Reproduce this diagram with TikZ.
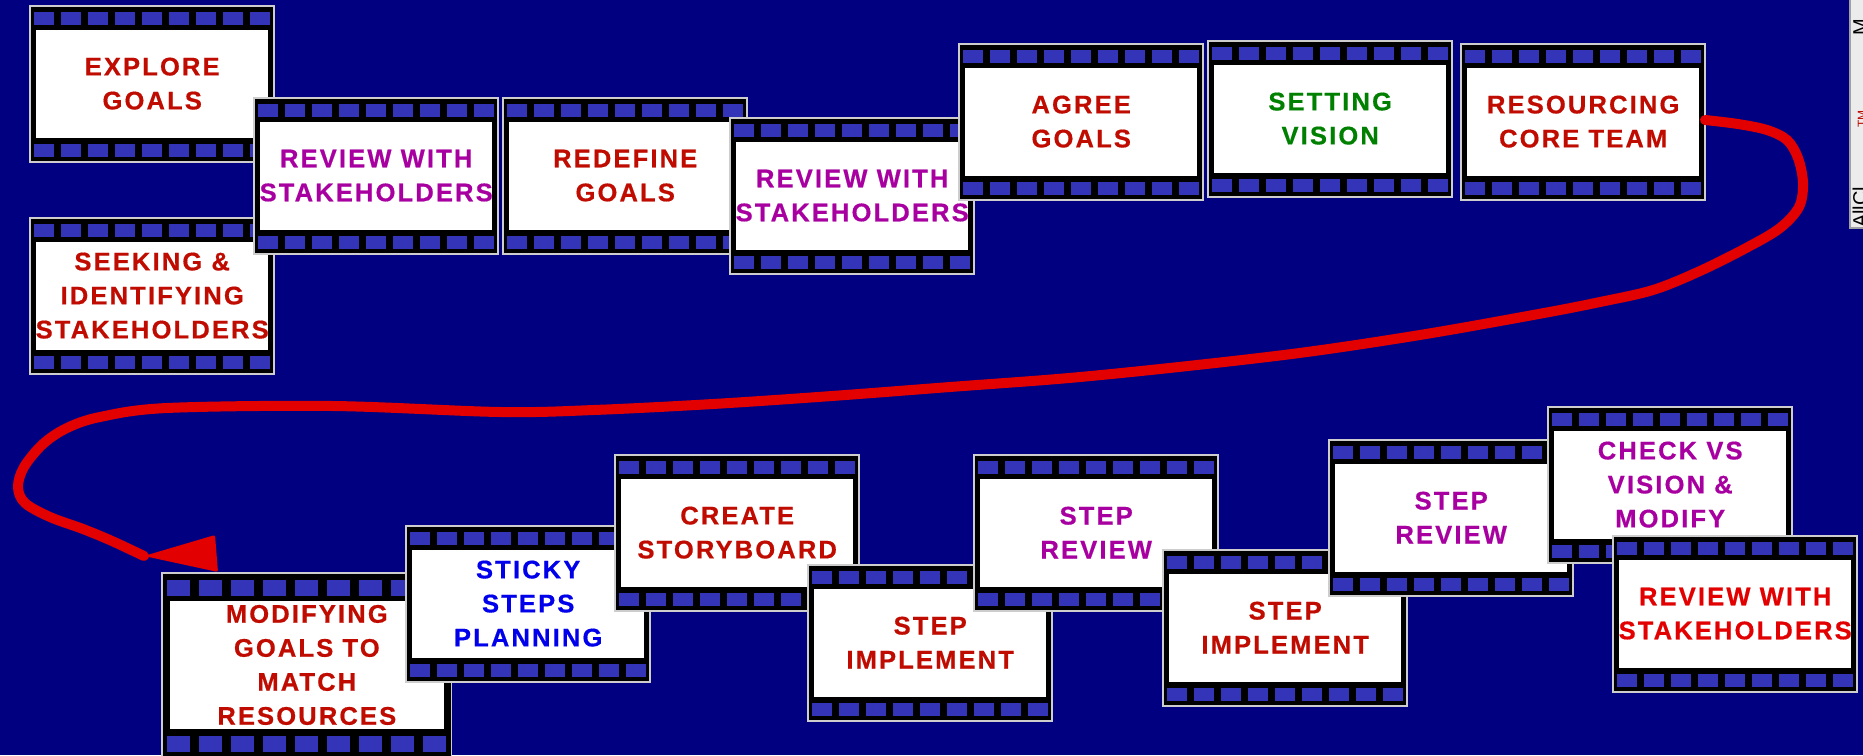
\documentclass[tikz,border=0pt]{standalone}
\usepackage{fontspec}
\setmainfont{Liberation Sans}
\newfontfamily\filmfont{Liberation Sans}[LetterSpace=8.5, BoldFeatures={FakeBold=0.6}]
\usetikzlibrary{calc}

\definecolor{navybg}{RGB}{0,0,128}
\definecolor{holeblue}{RGB}{52,52,184}
\definecolor{framerim}{RGB}{205,205,205}
\definecolor{darkred}{RGB}{192,12,0}
\definecolor{plum}{RGB}{168,0,160}
\definecolor{leaf}{RGB}{0,128,0}
\definecolor{sky}{RGB}{0,0,235}
\definecolor{brightred}{RGB}{226,0,0}
\definecolor{panelgray}{RGB}{236,236,236}
\definecolor{panelrim}{RGB}{160,160,160}

\tikzset{
  framebox/.style={fill=black, draw=framerim, line width=1.2pt, inner sep=0pt, outer sep=0pt},
  hole/.style={fill=holeblue},
  filmtext/.style={align=center, inner sep=0pt,
    font=\filmfont\bfseries\fontsize{25.5}{34}\selectfont},
  returnpath/.style={draw=brightred, line width=10pt, line cap=round, line join=round},
}

% film frame: name, left, top, scale, text colour, label
\newcommand\filmframe[6]{%
  \node[framebox, minimum width={244*#4}, minimum height={156*#4}, anchor=north west] (#1) at (#2,#3) {};
  \begin{scope}[shift={(#2,#3)}, scale=#4]
    \foreach \i in {0,...,8} {
      \fill[hole] ({4.4+27*\i},6) rectangle ++(19.3,13.3);
      \fill[hole] ({4.4+27*\i},137.6) rectangle ++(19.3,13.4);
    }
    \fill[white] (6.4,23.6) rectangle (238,131.6);
    \node[filmtext, text=#5] (#1-label) at (122.2,77.6) {#6};
  \end{scope}
}

\begin{document}
\begin{tikzpicture}[x=1pt, y=-1pt]
  \useasboundingbox (0,0) rectangle (1863,755);
  \fill[navybg] (0,0) rectangle (1863,755);

  % upper strip
  \filmframe{explore}{30}{6}{1}{darkred}{EXPLORE\\GOALS}
  \filmframe{seeking}{30}{218}{1}{darkred}{SEEKING \&\\IDENTIFYING\\STAKEHOLDERS}
  \filmframe{reviewa}{254}{98}{1}{plum}{REVIEW WITH\\STAKEHOLDERS}
  \filmframe{redefine}{503}{98}{1}{darkred}{REDEFINE\\GOALS}
  \filmframe{reviewb}{730}{118}{1}{plum}{REVIEW WITH\\STAKEHOLDERS}
  \filmframe{agree}{959}{44}{1}{darkred}{AGREE\\GOALS}
  \filmframe{vision}{1208}{41}{1}{leaf}{SETTING\\VISION}
  \filmframe{res}{1461}{44}{1}{darkred}{RESOURCING\\CORE TEAM}

  % lower strip
  \filmframe{mod}{162}{573}{1.185}{darkred}{MODIFYING\\GOALS TO\\MATCH\\RESOURCES}
  \filmframe{sticky}{406}{526}{1}{sky}{STICKY\\STEPS\\PLANNING}
  \filmframe{story}{615}{455}{1}{darkred}{CREATE\\STORYBOARD}
  \filmframe{impla}{808}{565}{1}{darkred}{STEP\\IMPLEMENT}
  \filmframe{stepa}{974}{455}{1}{plum}{STEP\\REVIEW}
  \filmframe{implb}{1163}{550}{1}{darkred}{STEP\\IMPLEMENT}
  \filmframe{stepb}{1329}{440}{1}{plum}{STEP\\REVIEW}
  \filmframe{check}{1548}{407}{1}{plum}{CHECK VS\\VISION \&\\MODIFY}
  \filmframe{reviewc}{1613}{536}{1}{brightred}{REVIEW WITH\\STAKEHOLDERS}

  % hand-drawn return curve from the top strip to the bottom strip
  \coordinate (arrowtip) at ($(mod.north west)+(-18,-17)$);
  \draw[returnpath] plot[smooth, tension=0.55] coordinates {
    ($(res.east)+(0,-2)$) (1738,124) (1767,130) (1787,140) (1798,158) (1803,183)
    (1799,207) (1780,228) (1748,247) (1700,271) (1653,290) (1600,302)
    (1544,313) (1426,334) (1307,352) (1188,366) (1069,378) (950,387)
    (832,396) (713,404) (594,410) (500,412) (333,406) (167,408)
    (100,417) (67,428) (43,444) (24,467) (18,487) (25,503) (50,517)
    (83,529) (112,541) (arrowtip)};
  \fill[brightred, rounded corners=2pt] (arrowtip)
    -- ($(mod.north west)+(53,-38)$) -- ($(mod.north west)+(56,-1)$) -- cycle;

  % clipped side panel at the right edge
  \fill[panelgray, draw=panelrim, line width=2pt] (1850,-5) rectangle (1870,228);
  \begin{scope}
    \clip (1851,0) rectangle (1863,227);
    \node[rotate=90, anchor=base west, inner sep=0pt, font=\fontsize{20}{24}\selectfont] (paneltext) at (1867,228) {AllCl};
    \node[rotate=90, anchor=base west, inner sep=0pt, text=darkred, font=\fontsize{12}{14}\selectfont] (panelmark) at (1866,128) {TM};
    \node[rotate=90, anchor=base west, inner sep=0pt, font=\fontsize{20}{24}\selectfont] (panelend) at (1867,36) {M};
  \end{scope}
\end{tikzpicture}
\end{document}
